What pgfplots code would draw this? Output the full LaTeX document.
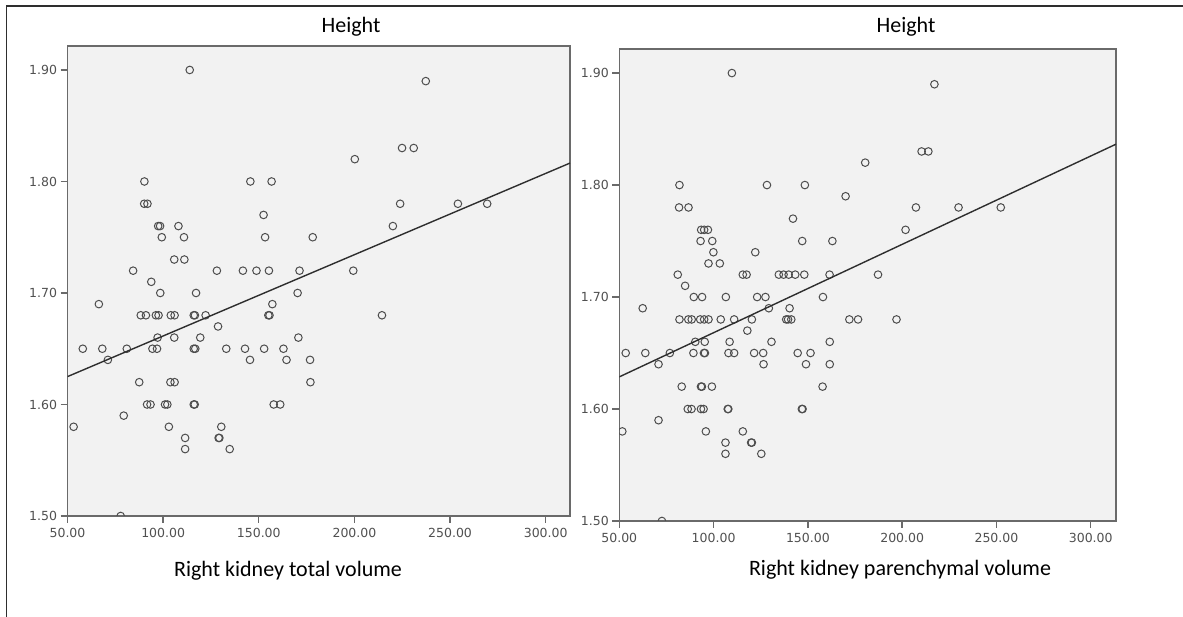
\documentclass[border=0pt]{standalone}
\usepackage{fontspec}
\setmainfont{Carlito}
\newfontfamily\tickfont{DejaVu Sans}
\usepackage{pgfplots}
\pgfplotsset{compat=1.18}
\definecolor{bgc}{HTML}{F2F2F2}
\definecolor{axc}{HTML}{6A6A6A}
\definecolor{mkc}{HTML}{4D4D4D}
\definecolor{lnc}{HTML}{2E2E2E}
\definecolor{tkc}{HTML}{505050}
\pgfplotsset{spss/.style={
  scale only axis, anchor=south west,
  xmin=50, ymin=1.5, ymax=1.9215,
  xtick={50,100,150,200,250,300}, ytick={1.5,1.6,1.7,1.8,1.9},
  axis background/.style={fill=bgc},
  axis line style={draw=axc, line width=1.4pt},
  tick pos=left, tick align=outside, major tick length=7pt,
  every tick/.style={draw=axc, line width=1.4pt},
  ticklabel style={font=\tickfont\fontsize{12.5}{14}\selectfont, text=tkc},
  xticklabel style={yshift=-2pt},
  xticklabel={\pgfmathprintnumber[fixed,fixed zerofill,precision=2,assume math mode=true]{\tick}},
  yticklabel={\pgfmathprintnumber[fixed,fixed zerofill,precision=2,assume math mode=true]{\tick}},
  clip marker paths=true,
},
pts/.style={only marks, mark=o, mark size=3.8pt, mark options={draw=mkc, line width=1pt}},
}
\begin{document}
\begin{tikzpicture}
\useasboundingbox (0,0) rectangle (1183pt,617pt);
\draw[lnc, line width=1.5pt] (6.7pt,0pt) -- (6.7pt,611pt) -- (1183pt,611pt);
\begin{axis}[spss, at={(67.5pt,101pt)}, width=502.5pt, height=470pt, xmax=312.7]
\addplot[pts] coordinates {
(113.9,1.90) (237.3,1.89) (224.9,1.83) (231.0,1.83) (200.2,1.82)
(90.2,1.80) (145.6,1.80) (156.7,1.80)
(90.1,1.78) (91.8,1.78) (223.9,1.78) (254.1,1.78) (269.4,1.78)
(152.5,1.77)
(97.4,1.76) (98.4,1.76) (108.0,1.76) (220.1,1.76)
(99.3,1.75) (110.9,1.75) (153.3,1.75) (178.2,1.75)
(105.8,1.73) (111.1,1.73)
(84.3,1.72) (128.1,1.72) (141.7,1.72) (148.8,1.72) (155.3,1.72) (171.3,1.72) (199.4,1.72)
(93.8,1.71)
(98.5,1.70) (117.2,1.70) (170.3,1.70)
(66.4,1.69) (157.1,1.69)
(88.3,1.68) (91.0,1.68) (96.2,1.68) (97.6,1.68) (104.0,1.68) (106.0,1.68) (116.0,1.68) (116.6,1.68) (122.2,1.68) (155.0,1.68) (155.6,1.68) (214.4,1.68)
(128.7,1.67)
(97.1,1.66) (105.8,1.66) (119.4,1.66) (170.7,1.66)
(58.0,1.65) (68.2,1.65) (81.0,1.65) (94.4,1.65) (96.8,1.65) (116.0,1.65) (116.8,1.65) (133.0,1.65) (142.8,1.65) (152.8,1.65) (162.9,1.65)
(71.1,1.64) (145.4,1.64) (164.5,1.64) (176.8,1.64)
(87.5,1.62) (103.8,1.62) (106.0,1.62) (177.0,1.62)
(91.6,1.60) (93.4,1.60) (101.0,1.60) (102.2,1.60) (116.0,1.60) (116.5,1.60) (157.8,1.60) (161.2,1.60)
(79.4,1.59)
(53.2,1.58) (103.0,1.58) (130.4,1.58)
(111.5,1.57) (129.0,1.57) (129.4,1.57)
(111.5,1.56) (134.8,1.56)
(77.8,1.50)
};
\addplot[lnc, line width=1.4pt] coordinates {(50,1.625) (312.7,1.8165)};
\end{axis}
\begin{axis}[spss, at={(619.3pt,96pt)}, width=496.7pt, height=472pt, xmax=313.4]
\addplot[pts] coordinates {
(109.7,1.90) (217.1,1.89) (210.3,1.83) (213.9,1.83) (180.4,1.82)
(81.9,1.80) (128.3,1.80) (148.4,1.80)
(170.0,1.79)
(81.7,1.78) (86.7,1.78) (207.3,1.78) (229.9,1.78) (252.3,1.78)
(142.1,1.77)
(93.4,1.76) (95.0,1.76) (97.0,1.76) (201.8,1.76)
(93.1,1.75) (99.3,1.75) (147.0,1.75) (163.0,1.75)
(99.9,1.74) (122.1,1.74)
(97.3,1.73) (103.3,1.73)
(81.0,1.72) (115.5,1.72) (117.5,1.72) (134.6,1.72) (137.1,1.72) (139.8,1.72) (143.3,1.72) (148.1,1.72) (161.5,1.72) (187.2,1.72)
(84.9,1.71)
(89.5,1.70) (93.9,1.70) (106.5,1.70) (123.1,1.70) (127.5,1.70) (158.0,1.70)
(62.4,1.69) (129.3,1.69) (140.3,1.69)
(81.9,1.68) (86.6,1.68) (88.4,1.68) (92.9,1.68) (95.0,1.68) (97.3,1.68) (103.8,1.68) (110.9,1.68) (120.3,1.68) (138.5,1.68) (139.5,1.68) (141.2,1.68) (172.0,1.68) (176.6,1.68) (197.0,1.68)
(117.9,1.67)
(90.3,1.66) (95.3,1.66) (108.5,1.66) (130.7,1.66) (161.6,1.66)
(53.4,1.65) (63.8,1.65) (76.8,1.65) (89.3,1.65) (94.9,1.65) (95.4,1.65) (107.9,1.65) (110.9,1.65) (121.5,1.65) (126.3,1.65) (144.6,1.65) (151.4,1.65)
(70.8,1.64) (126.5,1.64) (149.0,1.64) (161.6,1.64)
(83.1,1.62) (93.3,1.62) (93.8,1.62) (99.1,1.62) (157.8,1.62)
(86.3,1.60) (88.3,1.60) (93.3,1.60) (94.7,1.60) (107.5,1.60) (107.8,1.60) (146.8,1.60) (147.2,1.60)
(70.8,1.59)
(51.6,1.58) (95.9,1.58) (115.5,1.58)
(106.3,1.57) (119.9,1.57) (120.3,1.57)
(106.3,1.56) (125.3,1.56)
(72.6,1.50)
};
\addplot[lnc, line width=1.4pt] coordinates {(50,1.6287) (313.4,1.8365)};
\end{axis}
\node[font=\fontsize{22}{26}\selectfont, anchor=base] at (351pt,584pt) {Height};
\node[font=\fontsize{22}{26}\selectfont, anchor=base] at (906pt,584pt) {Height};
\node[font=\fontsize{22}{26}\selectfont, anchor=base] at (288pt,40pt) {Right kidney total volume};
\node[font=\fontsize{22}{26}\selectfont, anchor=base] at (900pt,41pt) {Right kidney parenchymal volume};
\end{tikzpicture}
\end{document}
